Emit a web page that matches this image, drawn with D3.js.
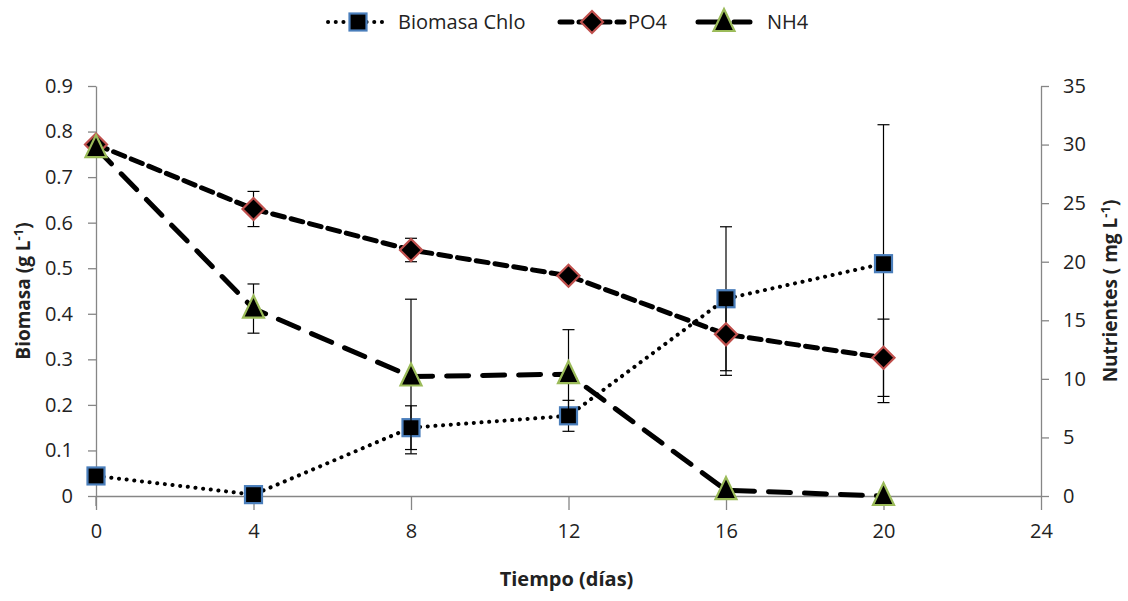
<!DOCTYPE html>
<html><head><meta charset="utf-8">
<script src="https://cdn.jsdelivr.net/npm/d3@7"></script>
<style>
body{margin:0;background:#fff;}
text{font-family:"Liberation Sans Narrow","Open Sans",sans-serif;}
</style></head><body>
<svg id="c" width="1128" height="601"></svg>
<script>
const days = [0, 4, 8, 12, 16, 20];
const biomasa = [0.044, 0.003, 0.150, 0.176, 0.433, 0.510];
const biomasaErr = [0, 0, 0.048, 0.034, 0.158, 0.305];
const po4 = [30.0, 24.5, 21.0, 18.8, 13.8, 11.8];
const po4Err = [0, 1.5, 1.0, 0, 3.5, 3.3];
const nh4 = [29.7, 16.0, 10.2, 10.4, 0.5, 0.0];
const nh4Err = [0, 2.1, 6.6, 3.8, 0, 0];
const xTicks = [0, 4, 8, 12, 16, 20, 24];
const leftTicks = [0, 0.1, 0.2, 0.3, 0.4, 0.5, 0.6, 0.7, 0.8, 0.9];
const rightTicks = [0, 5, 10, 15, 20, 25, 30, 35];

const svg = d3.select("#c");
const L = 96, R = 1041, T = 86, B = 496;
const x = d3.scaleLinear().domain([0, 24]).range([L, R]);
const yL = d3.scaleLinear().domain([0, 0.9]).range([B, T]);
const yR = d3.scaleLinear().domain([0, 35]).range([B, T]);
const axisColor = "#868686";
const fontSize = 20;

// axes
const gx = svg.append("g").attr("transform", `translate(0,${B})`)
  .call(d3.axisBottom(x).tickValues(xTicks).tickFormat(d3.format("d")).tickSize(14).tickSizeOuter(0));
const gl = svg.append("g").attr("transform", `translate(${L},0)`)
  .call(d3.axisLeft(yL).tickValues(leftTicks).tickFormat(d => d === 0 ? "0" : d3.format(".1f")(d)).tickSize(8).tickSizeOuter(0));
const gr = svg.append("g").attr("transform", `translate(${R},0)`)
  .call(d3.axisRight(yR).tickValues(rightTicks).tickFormat(d3.format("d")).tickSize(8).tickSizeOuter(0));
[gx, gl, gr].forEach(g => {
  g.select(".domain").attr("stroke", axisColor).attr("stroke-width", 1.3);
  g.selectAll(".tick line").attr("stroke", axisColor).attr("stroke-width", 1.3);
  g.selectAll(".tick text").attr("fill", "#222").style("font-size", fontSize + "px")
    .style("font-family", '"Liberation Sans Narrow","Open Sans",sans-serif');
});
gx.selectAll(".tick text").attr("dy", "1.25em");
gl.selectAll(".tick text").attr("x", -23);
gr.selectAll(".tick text").attr("x", 22);
// left axis extends slightly below x axis
svg.append("line").attr("x1", L).attr("x2", L).attr("y1", B).attr("y2", B + 10)
  .attr("stroke", axisColor).attr("stroke-width", 1.3);

// titles
svg.append("text").attr("x", (L + R) / 2 - 2).attr("y", 586).attr("text-anchor", "middle")
  .style("font-size", "20px").style("font-weight", "bold").attr("fill", "#222").text("Tiempo (días)");
const lt = svg.append("text").attr("transform", `translate(30,291) rotate(-90)`).attr("text-anchor", "middle")
  .style("font-size", "19px").style("font-weight", "bold").attr("fill", "#222");
lt.append("tspan").text("Biomasa  (g L");
lt.append("tspan").attr("dy", -7).style("font-size", "13px").text("-1");
lt.append("tspan").attr("dy", 7).text(")");
const rt = svg.append("text").attr("transform", `translate(1117,291) rotate(-90)`).attr("text-anchor", "middle")
  .style("font-size", "19px").style("font-weight", "bold").attr("fill", "#222");
rt.append("tspan").text("Nutrientes ( mg L");
rt.append("tspan").attr("dy", -7).style("font-size", "13px").text("-1");
rt.append("tspan").attr("dy", 7).text(")");

// series definitions
const series = [
  {name: "Biomasa Chlo", vals: biomasa, err: biomasaErr, y: yL, dash: "0.1 7.6", cap: "round", width: 4, marker: "square", stroke: "#4a7ebb"},
  {name: "PO4", vals: po4, err: po4Err, y: yR, dash: "12 7", cap: "round", width: 5, marker: "diamond", stroke: "#c0504d"},
  {name: "NH4", vals: nh4, err: nh4Err, y: yR, dash: "22 14", cap: "round", width: 5, marker: "triangle", stroke: "#9bbb59"}
];

function drawMarker(g, type, cx, cy, stroke) {
  if (type === "square") {
    g.append("rect").attr("x", cx - 8.5).attr("y", cy - 8.5).attr("width", 17).attr("height", 17)
      .attr("fill", "#000").attr("stroke", stroke).attr("stroke-width", 2.2);
  } else if (type === "diamond") {
    g.append("path").attr("d", `M${cx},${cy - 11}L${cx + 11},${cy}L${cx},${cy + 11}L${cx - 11},${cy}Z`)
      .attr("fill", "#000").attr("stroke", stroke).attr("stroke-width", 2.2);
  } else {
    g.append("path").attr("d", `M${cx},${cy - 13}L${cx + 10.5},${cy + 9}L${cx - 10.5},${cy + 9}Z`)
      .attr("fill", "#000").attr("stroke", stroke).attr("stroke-width", 2.2).attr("stroke-linejoin", "miter");
  }
}

series.forEach(s => {
  const g = svg.append("g");
  const pts = days.map((d, i) => [x(d), s.y(s.vals[i])]);
  g.append("path").attr("d", d3.line()(pts)).attr("fill", "none").attr("stroke", "#000")
    .attr("stroke-width", s.width).attr("stroke-dasharray", s.dash).attr("stroke-linecap", s.cap);
  // error bars
  days.forEach((d, i) => {
    if (!s.err[i]) return;
    const cx = x(d), y1 = s.y(s.vals[i] + s.err[i]), y2 = s.y(s.vals[i] - s.err[i]);
    g.append("line").attr("x1", cx).attr("x2", cx).attr("y1", y1).attr("y2", y2).attr("stroke", "#000").attr("stroke-width", 1.2);
    [y1, y2].forEach(yy => g.append("line").attr("x1", cx - 6).attr("x2", cx + 6).attr("y1", yy).attr("y2", yy)
      .attr("stroke", "#000").attr("stroke-width", 1.2));
  });
  pts.forEach(p => drawMarker(g, s.marker, p[0], p[1], s.stroke));
});

// legend
const legendItems = [
  {s: series[0], x1: 328, x2: 388, tx: 398},
  {s: series[1], x1: 560, x2: 624, tx: 628},
  {s: series[2], x1: 698, x2: 750, tx: 767}
];
legendItems.forEach(li => {
  const g = svg.append("g");
  const ly = 22;
  g.append("line").attr("x1", li.x1).attr("x2", li.x2).attr("y1", ly).attr("y2", ly)
    .attr("stroke", "#000").attr("stroke-width", li.s.width).attr("stroke-dasharray", li.s.dash).attr("stroke-linecap", li.s.cap);
  drawMarker(g, li.s.marker, (li.x1 + li.x2) / 2, ly, li.s.stroke);
  g.append("text").attr("x", li.tx).attr("y", ly + 7).style("font-size", "20px").attr("fill", "#222").text(li.s.name);
});
</script>
</body></html>
